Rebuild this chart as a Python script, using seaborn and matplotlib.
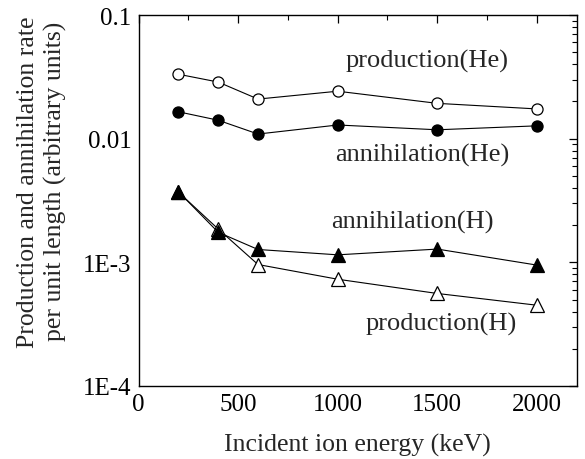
import matplotlib
matplotlib.use("Agg")
import matplotlib.pyplot as plt
from matplotlib import font_manager as fm
import seaborn as sns
import pandas as pd
from matplotlib.ticker import FixedLocator, FixedFormatter, LogLocator, NullFormatter, MultipleLocator

energy = [200, 400, 600, 1000, 1500, 2000]
prod_he = [0.0332, 0.0287, 0.0209, 0.0242, 0.0193, 0.0174]
ann_he = [0.0165, 0.0141, 0.0109, 0.0129, 0.0118, 0.0127]
ann_h = [0.00373, 0.00175, 0.00127, 0.00115, 0.00128, 0.00095]
prod_h = [0.0037, 0.00186, 0.00096, 0.00073, 0.00056, 0.00045]

y_ticks = [1e-4, 1e-3, 1e-2, 1e-1]
y_labels = ["1E-4", "1E-3", "0.01", "0.1"]

fam = "STIXGeneral"
allfiles = fm.findSystemFonts()
for key in ["LiberationSerif-Regular", "Tinos-Regular", "Tinos[", "NimbusRoman-Regular"]:
    hits = [f for f in allfiles if key in f]
    if hits:
        fm.fontManager.addfont(hits[0])
        fam = fm.FontProperties(fname=hits[0]).get_name()
        break

sns.set_theme(style="white")
plt.rcParams['font.family'] = [fam, 'STIXGeneral', 'DejaVu Serif']

fig = plt.figure(figsize=(5.85, 4.6), dpi=100)
ax = fig.add_axes([0.2368, 0.1587, 0.7490, 0.8065])

series = [
    (prod_he, "o", "white", 8),
    (ann_he, "o", "black", 8),
    (prod_h, "^", "white", 10),
    (ann_h, "^", "black", 10),
]
for vals, mk, fc, ms in series:
    df = pd.DataFrame({"x": energy, "y": vals})
    sns.lineplot(data=df, x="x", y="y", ax=ax, color="black", linewidth=0.8,
                 marker=mk, markersize=ms, markerfacecolor=fc,
                 markeredgecolor="black", markeredgewidth=0.9)

ax.set_yscale("log")
ax.set_xlim(0, 2200)
ax.set_ylim(1e-4, 0.1)

ax.yaxis.set_major_locator(FixedLocator(y_ticks))
ax.yaxis.set_major_formatter(FixedFormatter(y_labels))
ax.yaxis.set_minor_locator(LogLocator(base=10, subs=range(2, 10)))
ax.yaxis.set_minor_formatter(NullFormatter())
ax.xaxis.set_major_locator(MultipleLocator(500))
ax.xaxis.set_minor_locator(MultipleLocator(250))

ax.tick_params(which="both", direction="in", top=True, right=True, colors="black")
ax.tick_params(which="major", length=6, width=0.9, labelsize=18, pad=5)
ax.tick_params(which="minor", length=3.5, width=0.8)
for s in ax.spines.values():
    s.set_color("black")
    s.set_linewidth(1.0)

ax.set_xlabel("Incident ion energy (keV)", fontsize=18.5, labelpad=13)
ax.set_ylabel("Production and annihilation rate\nper unit length (arbitrary units)",
              fontsize=18.5, linespacing=1.3)
ax.yaxis.set_label_coords(-0.163, 0.553)

fs = 19
ax.text(1451, 0.0427, "production(He)", ha="center", va="center", fontsize=fs)
ax.text(1426, 0.0075, "annihilation(He)", ha="center", va="center", fontsize=fs)
ax.text(1377, 0.00213, "annihilation(H)", ha="center", va="center", fontsize=fs)
ax.text(1520, 0.000318, "production(H)", ha="center", va="center", fontsize=fs)

fig.savefig("out.png", dpi=100)
